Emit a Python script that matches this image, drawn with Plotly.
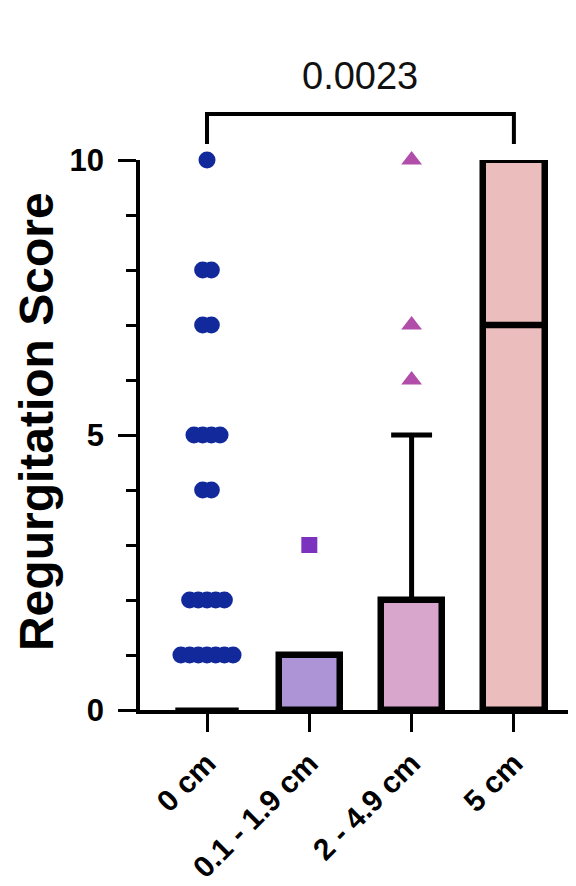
import plotly.graph_objects as go
from collections import Counter

categories = ["0 cm", "0.1 - 1.9 cm", "2 - 4.9 cm", "5 cm"]
q1 = [0, 0, 0, 0]
median = [0, 0, 0, 7]
q3 = [0, 1, 2, 10]
whisker_top = [None, None, 5, None]

points_0cm = [10, 8, 8, 7, 7, 5, 5, 5, 5, 4, 4, 2, 2, 2, 2, 2, 1, 1, 1, 1, 1, 1, 1]
points_01_19 = [3]
points_2_49 = [10, 7, 6]
p_value = "0.0023"

fill_colors = ["#ffffff", "#ad94d7", "#d8a5cc", "#ebbdbc"]
box_cats = [1, 2, 3]

def swarm(values, center, spacing=0.085):
    counts = Counter(values)
    seen = Counter()
    xs = []
    for v in values:
        n = counts[v]
        i = seen[v]
        seen[v] += 1
        xs.append(center + (i - (n - 1) / 2) * spacing)
    return xs

fig = go.Figure()

# whisker
for i, wt in enumerate(whisker_top):
    if wt is None:
        continue
    fig.add_trace(go.Scatter(x=[i, i], y=[q3[i], wt], mode="lines",
                             line=dict(color="black", width=5), showlegend=False, hoverinfo="skip"))
    fig.add_trace(go.Scatter(x=[i - 0.2, i + 0.2], y=[wt, wt], mode="lines",
                             line=dict(color="black", width=5), showlegend=False, hoverinfo="skip"))

# boxes
fig.add_trace(go.Bar(
    x=box_cats,
    base=[q1[i] for i in box_cats],
    y=[q3[i] - q1[i] for i in box_cats],
    width=0.6,
    marker=dict(color=[fill_colors[i] for i in box_cats], line=dict(color="black", width=6.5)),
    cliponaxis=False, showlegend=False, hoverinfo="skip"))

# medians
for i, m in enumerate(median):
    if i == 0:
        fig.add_trace(go.Scatter(x=[i - 0.31, i + 0.31], y=[m, m], mode="lines",
                                 line=dict(color="black", width=5), showlegend=False, hoverinfo="skip"))
    elif m > q1[i]:
        fig.add_trace(go.Scatter(x=[i - 0.3, i + 0.3], y=[m, m], mode="lines",
                                 line=dict(color="black", width=6.5), showlegend=False, hoverinfo="skip"))

# points
fig.add_trace(go.Scatter(x=swarm(points_0cm, 0), y=points_0cm, mode="markers",
                         marker=dict(symbol="circle", size=17, color="#11299b"),
                         cliponaxis=False, showlegend=False))
fig.add_trace(go.Scatter(x=swarm(points_01_19, 1), y=points_01_19, mode="markers",
                         marker=dict(symbol="square", size=16, color="#7b33bf"),
                         cliponaxis=False, showlegend=False))
fig.add_trace(go.Scatter(x=swarm(points_2_49, 2), y=points_2_49, mode="markers",
                         marker=dict(symbol="triangle-up", size=18, color="#b04ea9"),
                         cliponaxis=False, showlegend=False))

# significance bracket
fig.add_shape(type="path", xref="x", yref="paper",
              path="M 0,1.029 L 0,1.0836 L 3,1.0836 L 3,1.029",
              line=dict(color="black", width=4))
fig.add_annotation(x=1.5, xref="x", y=1.153, yref="paper", text=p_value, showarrow=False,
                   font=dict(family="Liberation Sans", size=38, color="#111111"),
                   xanchor="center", yanchor="middle")

# y title
fig.add_annotation(x=-0.239, xref="paper", y=0.525, yref="paper", text="<b>Regurgitation Score</b>",
                   textangle=-90, showarrow=False,
                   font=dict(family="Liberation Sans", size=48, color="black"),
                   xanchor="center", yanchor="middle")

fig.update_layout(
    width=568, height=878,
    margin=dict(l=132, r=0, t=152, b=176),
    paper_bgcolor="white", plot_bgcolor="white",
    bargap=0,
    xaxis=dict(range=[-0.655, 3.607], tickvals=[0, 1, 2, 3], ticktext=categories,
               tickangle=-45, showline=True, linecolor="black", linewidth=3.5,
               ticks="outside", ticklen=18, tickwidth=3, tickcolor="black",
               showgrid=False, zeroline=False, ticklabelstandoff=2, automargin=False,
               tickfont=dict(family="Liberation Sans", size=30, color="black", weight="bold")),
    yaxis=dict(range=[0, 10], tickvals=[0, 5, 10], showline=True, linecolor="black", linewidth=3.5,
               ticks="outside", ticklen=18, tickwidth=3, tickcolor="black",
               minor=dict(dtick=1, ticks="outside", ticklen=10, tickwidth=3, tickcolor="black", showgrid=False),
               showgrid=False, zeroline=False, ticklabelstandoff=8, automargin=False,
               tickfont=dict(family="Liberation Sans", size=31, color="black", weight="bold")),
)

fig.write_html("out.html")
